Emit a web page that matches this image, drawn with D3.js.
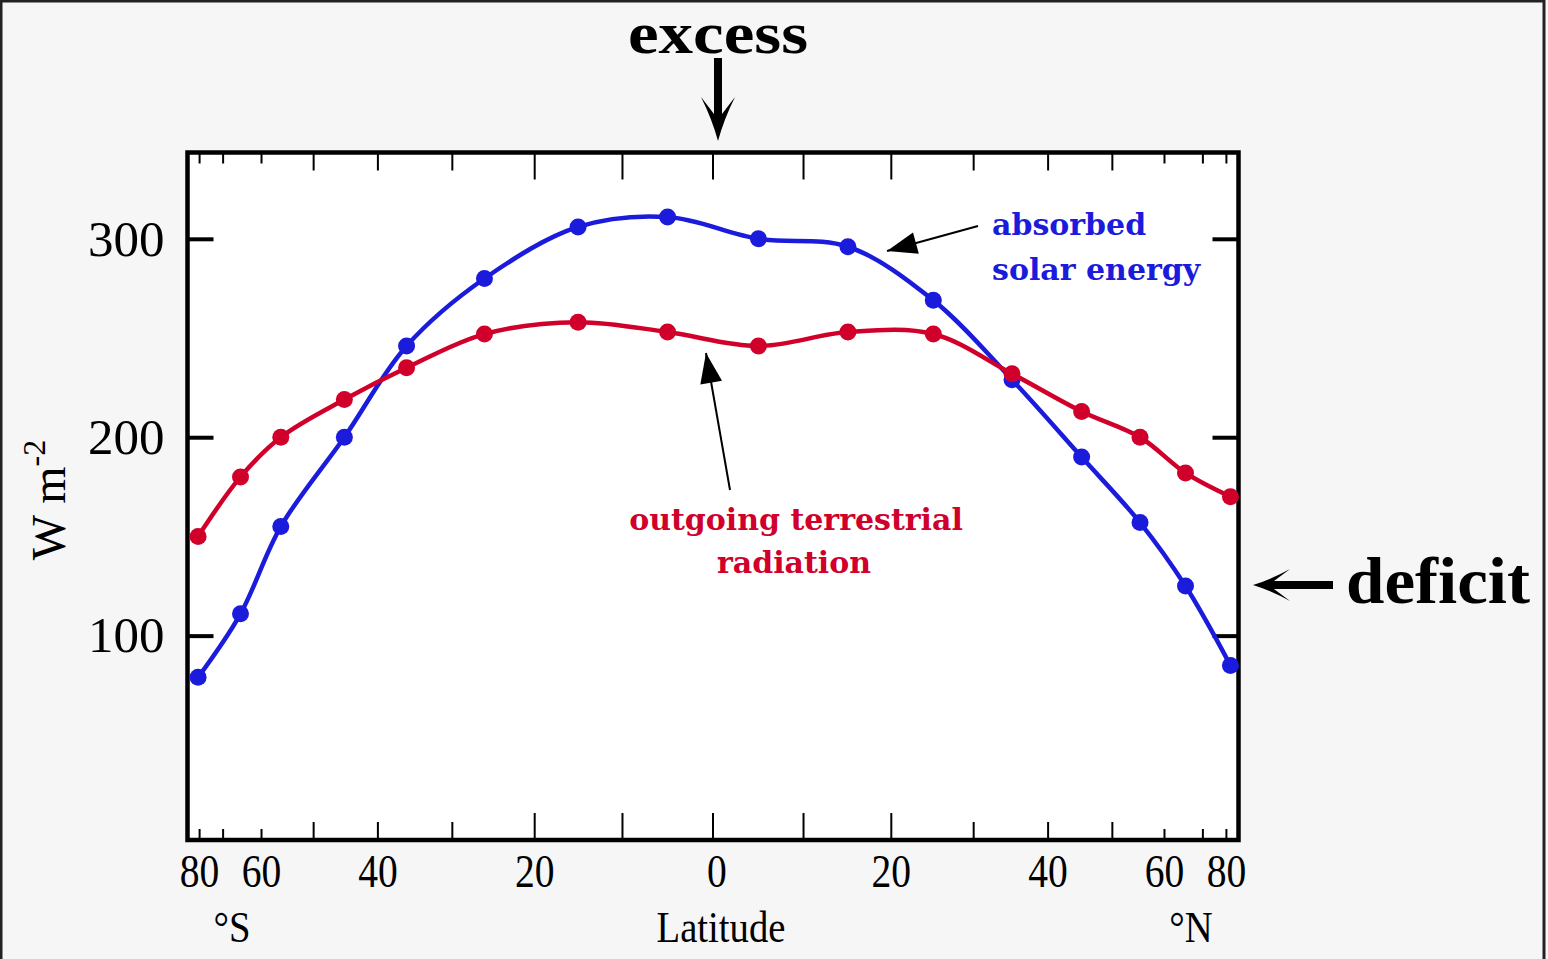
<!DOCTYPE html>
<html><head><meta charset="utf-8">
<script src="https://cdn.jsdelivr.net/npm/d3@7"></script>
<style>html,body{margin:0;padding:0;background:#f6f6f6;overflow:hidden}</style>
</head><body><svg id="c" width="1548" height="959"></svg>
<script>
// ---- data ----
const latitudes = [-81, -65, -56, -45, -36, -26, -15, -5, 5, 15, 25, 35, 45, 55, 65, 83];
const absorbedSolar = [79, 111, 155, 200, 246, 280, 306, 311, 300, 296, 269, 229, 190, 157, 125, 85];
const outgoingTerrestrial = [150, 180, 200, 219, 235, 252, 258, 253, 246, 253, 252, 232, 213, 200, 182, 170];
const yTickValues = [100, 200, 300];
const xTickDegrees = [-80, -70, -60, -50, -40, -30, -20, -10, 0, 10, 20, 30, 40, 50, 60, 70, 80];
const xTickLabelDegrees = [-80, -60, -40, -20, 0, 20, 40, 60, 80];

const BLUE = "#1b1bdc", RED = "#d0002a";
const svg = d3.select("#c");
const plot = {left: 187.5, right: 1238.5, top: 152.5, bottom: 840};

// x: area-weighted (sine of latitude) axis
const xs = d3.scaleLinear().domain([-1.008, 1.008]).range([plot.left, plot.right]);
const xLat = d => xs(Math.sin(d * Math.PI / 180));
const y = d3.scaleLinear().domain([-3, 343.5]).range([plot.bottom, plot.top]);

// outer frame
svg.append("rect").attr("x", 1).attr("y", 1).attr("width", 1543).attr("height", 990)
  .attr("fill", "#f6f6f6").attr("stroke", "#222").attr("stroke-width", 3);

// plot area
svg.append("rect").attr("x", plot.left).attr("y", plot.top)
  .attr("width", plot.right - plot.left).attr("height", plot.bottom - plot.top)
  .attr("fill", "#fff");

const tickLen = d => Math.abs(d) <= 20 ? 27 : (Math.abs(d) <= 50 ? 18 : 11);

// x ticks top & bottom
const xt = svg.append("g").attr("stroke", "#000").attr("stroke-width", 2);
xt.selectAll("line.b").data(xTickDegrees).join("line").attr("class", "b")
  .attr("x1", d => xLat(d)).attr("x2", d => xLat(d))
  .attr("y1", plot.bottom).attr("y2", d => plot.bottom - tickLen(d));
xt.selectAll("line.t").data(xTickDegrees).join("line").attr("class", "t")
  .attr("x1", d => xLat(d)).attr("x2", d => xLat(d))
  .attr("y1", plot.top).attr("y2", d => plot.top + tickLen(d));

// x tick labels
svg.append("g").selectAll("text").data(xTickLabelDegrees).join("text")
  .attr("transform", d => `translate(${xLat(d) + (d === 0 ? 4 : 0)},887) scale(0.86,1)`)
  .attr("text-anchor", "middle")
  .attr("font-family", "Liberation Serif").attr("font-size", 46)
  .text(d => Math.abs(d));

// y axis left (labels) and right
const yAxisL = d3.axisLeft(y).tickValues(yTickValues).tickSizeInner(-26).tickSizeOuter(0).tickPadding(23);
const gL = svg.append("g").attr("transform", `translate(${plot.left},0)`).call(yAxisL);
gL.select(".domain").remove();
gL.selectAll(".tick line").attr("stroke", "#000").attr("stroke-width", 4);
gL.selectAll(".tick text").attr("font-family", "Liberation Serif").attr("font-size", 51).attr("fill", "#000");
const yAxisR = d3.axisRight(y).tickValues(yTickValues).tickSizeInner(-26).tickSizeOuter(0).tickFormat("");
const gR = svg.append("g").attr("transform", `translate(${plot.right},0)`).call(yAxisR);
gR.select(".domain").remove();
gR.selectAll(".tick line").attr("stroke", "#000").attr("stroke-width", 4);

// plot border
svg.append("rect").attr("x", plot.left).attr("y", plot.top)
  .attr("width", plot.right - plot.left).attr("height", plot.bottom - plot.top)
  .attr("fill", "none").attr("stroke", "#000").attr("stroke-width", 4.5);

// series
const line = d3.line().x((d, i) => xLat(latitudes[i])).y(d => y(d)).curve(d3.curveCatmullRom.alpha(0.5));
function drawSeries(vals, color) {
  svg.append("path").datum(vals).attr("d", line).attr("fill", "none")
    .attr("stroke", color).attr("stroke-width", 4.5).attr("stroke-linejoin", "round");
  svg.append("g").selectAll("circle").data(vals).join("circle")
    .attr("cx", (d, i) => xLat(latitudes[i])).attr("cy", d => y(d)).attr("r", 8.5).attr("fill", color);
}
drawSeries(absorbedSolar, BLUE);
drawSeries(outgoingTerrestrial, RED);

// axis titles
svg.append("text").attr("transform", "translate(721,942) scale(0.86,1)").attr("text-anchor", "middle")
  .attr("font-family", "Liberation Serif").attr("font-size", 45).text("Latitude");
svg.append("text").attr("transform", "translate(232,942) scale(0.86,1)").attr("text-anchor", "middle")
  .attr("font-family", "Liberation Serif").attr("font-size", 45).text("°S");
svg.append("text").attr("transform", "translate(1191,942) scale(0.86,1)").attr("text-anchor", "middle")
  .attr("font-family", "Liberation Serif").attr("font-size", 45).text("°N");
const yl = svg.append("text").attr("transform", "translate(65,500) rotate(-90)").attr("text-anchor", "middle")
  .attr("font-family", "Liberation Serif").attr("font-size", 48);
yl.append("tspan").text("W m");
yl.append("tspan").attr("font-size", 32).attr("dy", -20).text("-2");

// annotations
svg.append("text").attr("x", 718).attr("y", 53).attr("text-anchor", "middle")
  .attr("font-family", "Liberation Serif").attr("font-weight", "bold").attr("font-size", 60)
  .attr("textLength", 180).attr("lengthAdjust", "spacingAndGlyphs").text("excess");
svg.append("text").attr("x", 1346).attr("y", 603)
  .attr("font-family", "Liberation Serif").attr("font-weight", "bold").attr("font-size", 66)
  .attr("textLength", 184).attr("lengthAdjust", "spacingAndGlyphs").text("deficit");

// excess arrow (down)
svg.append("path").attr("fill", "#000")
  .attr("d", "M718,141 Q712,119 701,97 L714,114 L714,58 L722,58 L722,114 L735,97 Q724,119 718,141 Z");
// deficit arrow (left)
svg.append("path").attr("fill", "#000")
  .attr("d", "M1253,585 Q1272,579 1290,569 L1274,581 L1333,581 L1333,589 L1274,589 L1290,601 Q1272,591 1253,585 Z");

const ann = svg.append("g").attr("font-family", "DejaVu Serif").attr("font-weight", "bold").attr("font-size", 30);
ann.append("text").attr("x", 992).attr("y", 235).attr("fill", BLUE).text("absorbed");
ann.append("text").attr("x", 992).attr("y", 280).attr("fill", BLUE).text("solar energy");
ann.append("text").attr("x", 796).attr("y", 530).attr("text-anchor", "middle").attr("fill", RED).text("outgoing terrestrial");
ann.append("text").attr("x", 794).attr("y", 573).attr("text-anchor", "middle").attr("fill", RED).text("radiation");

// pointer arrows
function pointer(x1, y1, x2, y2) {
  svg.append("line").attr("x1", x1).attr("y1", y1).attr("x2", x2).attr("y2", y2)
    .attr("stroke", "#000").attr("stroke-width", 2);
  const a = Math.atan2(y2 - y1, x2 - x1), L = 30, H = 11;
  const bx = x2 - L * Math.cos(a), by = y2 - L * Math.sin(a);
  const px = -Math.sin(a) * H, py = Math.cos(a) * H;
  svg.append("path").attr("fill", "#000")
    .attr("d", `M${x2},${y2} L${bx + px},${by + py} L${bx - px},${by - py} Z`);
}
pointer(978, 226, 887, 251);
pointer(730, 490, 706, 353);
</script></body></html>
